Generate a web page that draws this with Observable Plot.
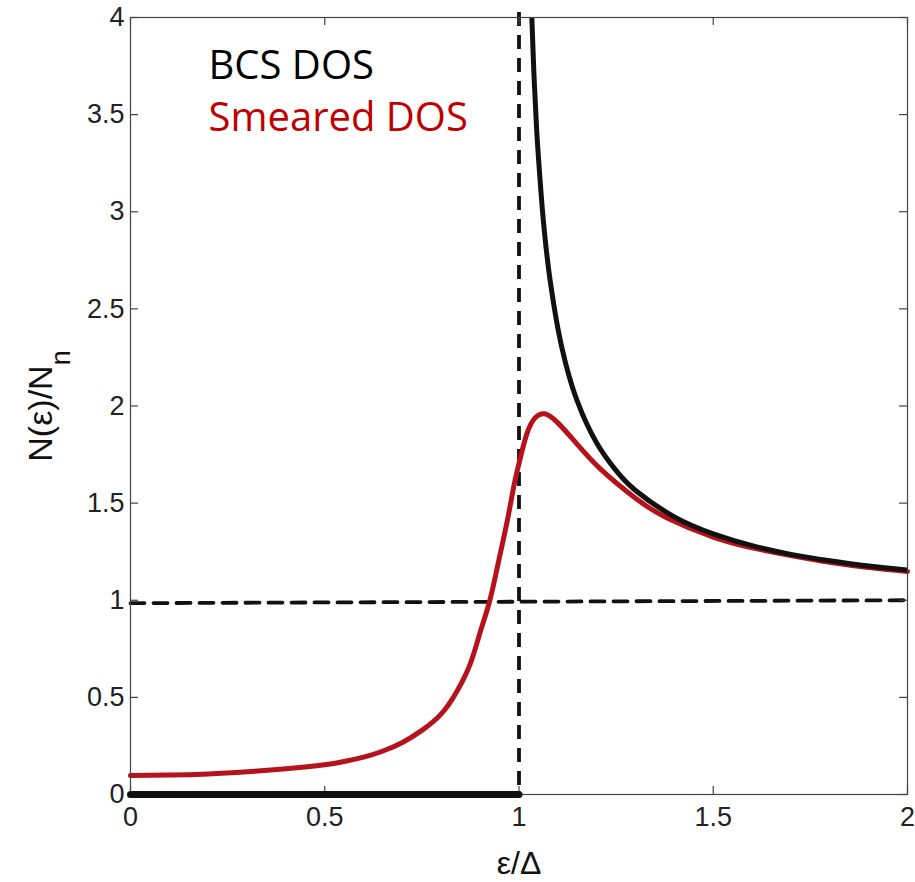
<!DOCTYPE html>
<html><head><meta charset="utf-8">
<script src="https://cdn.jsdelivr.net/npm/d3@7"></script>
<script src="https://cdn.jsdelivr.net/npm/@observablehq/plot@0.6"></script>
<style>body{margin:0;background:#fff} #chart svg{display:block}</style>
</head><body><div id="chart"></div>
<script>
// BCS density of states (above the gap)
const bcsX = [1.033, 1.038, 1.045, 1.05, 1.06, 1.07, 1.08, 1.1, 1.12, 1.15, 1.2, 1.25, 1.3, 1.4, 1.5, 1.6, 1.7, 1.8, 1.9, 2.0];
const bcsY = [4.0, 3.73, 3.44, 3.28, 3.015, 2.81, 2.648, 2.40, 2.22, 2.025, 1.809, 1.667, 1.565, 1.429, 1.342, 1.281, 1.236, 1.203, 1.176, 1.155];
// BCS zero inside the gap
const gapX = [0, 1];
const gapY = [0, 0];
// Smeared DOS
const smearX = [0, 0.1, 0.2, 0.3, 0.4, 0.5, 0.55, 0.6, 0.65, 0.7, 0.75, 0.8, 0.84, 0.875, 0.9, 0.925, 0.948, 0.97, 0.988, 1.004, 1.021, 1.042, 1.066, 1.098, 1.149, 1.21, 1.3, 1.38, 1.5, 1.6, 1.7, 1.8, 1.9, 2.0];
const smearY = [0.098, 0.100, 0.106, 0.117, 0.132, 0.153, 0.17, 0.192, 0.224, 0.268, 0.33, 0.415, 0.53, 0.675, 0.835, 1.0, 1.205, 1.41, 1.60, 1.737, 1.862, 1.94, 1.96, 1.917, 1.805, 1.675, 1.525, 1.425, 1.325, 1.27, 1.23, 1.195, 1.168, 1.148];
// Normal-state reference (dashed) and gap edge
const normalX = [0, 2];
const normalY = [0.985, 1.0];
const gapEdge = [1];
// Ticks
const xTicks = [0, 0.5, 1, 1.5, 2];
const xTickLabels = ["0", "0.5", "1", "1.5", "2"];
const yTicks = [0, 0.5, 1, 1.5, 2, 2.5, 3, 3.5, 4];
const yTickLabels = ["0", "0.5", "1", "1.5", "2", "2.5", "3", "3.5", "4"];
// Texts
const legendLabels = ["BCS DOS", "Smeared DOS"];
const legendColors = ["#000000", "#c00000"];
const xLabel = "ε/Δ";
const yLabelMain = "N(ε)/N";
const yLabelSub = "n";

const bcs = bcsX.map((x, i) => ({x, y: bcsY[i]}));
const gap = gapX.map((x, i) => ({x, y: gapY[i]}));
const smear = smearX.map((x, i) => ({x, y: smearY[i]}));
const normal = normalX.map((x, i) => ({x, y: normalY[i]}));

const W = 915, H = 882;
const mL = 130, mR = 8, mT = 17, mB = 88;
const dash = "14,9";
const axisColor = "#444";
const tick = 8;
const innerW = W - mL - mR, innerH = H - mT - mB;

const chart = Plot.plot({
  width: W,
  height: H,
  marginLeft: mL,
  marginRight: mR,
  marginTop: mT,
  marginBottom: mB,
  x: {domain: [0, 2], axis: null, label: null},
  y: {domain: [0, 4], axis: null, label: null},
  style: {fontFamily: "'Liberation Sans', Arial, sans-serif", fontSize: "27px", color: "#222", background: "#fff", overflow: "visible"},
  marks: [
    Plot.line(normal, {x: "x", y: "y", stroke: "#111", strokeWidth: 3.8, strokeDasharray: dash}),
    Plot.ruleX(gapEdge, {x: d => d, stroke: "#111", strokeWidth: 3.8, strokeDasharray: dash, insetTop: -5}),
    Plot.line(smear, {x: "x", y: "y", curve: "natural", stroke: "#b5121b", strokeWidth: 5}),
    Plot.line(bcs, {x: "x", y: "y", curve: "natural", stroke: "#111", strokeWidth: 5, clip: true}),
    // inward tick marks on all four sides
    Plot.ruleX(xTicks, {x: d => d, insetTop: innerH - tick, stroke: axisColor, strokeWidth: 1.2}),
    Plot.ruleX(xTicks, {x: d => d, insetBottom: innerH - tick, stroke: axisColor, strokeWidth: 1.2}),
    Plot.ruleY(yTicks, {y: d => d, insetRight: innerW - tick, stroke: axisColor, strokeWidth: 1.2}),
    Plot.ruleY(yTicks, {y: d => d, insetLeft: innerW - tick, stroke: axisColor, strokeWidth: 1.2}),
    Plot.frame({stroke: axisColor, strokeWidth: 1.2}),
    Plot.line(gap, {x: "x", y: "y", stroke: "#111", strokeWidth: 7}),
    Plot.axisX(xTicks, {anchor: "bottom", tickSize: 0, tickPadding: 12, tickFormat: d => xTickLabels[xTicks.indexOf(d)], fill: "#222", label: null}),
    Plot.axisY(yTicks, {anchor: "left", tickSize: 0, tickPadding: 6, tickFormat: d => yTickLabels[yTicks.indexOf(d)], fill: "#222", label: null}),
    Plot.text([xLabel], {text: d => d, frameAnchor: "bottom", dy: 69, fontSize: 32, fill: "#111", lineAnchor: "middle"}),
    Plot.text([yLabelMain], {text: d => d, frameAnchor: "left", rotate: -90, dx: -79, fontSize: 34, fill: "#111", lineAnchor: "bottom", textAnchor: "middle"}),
    Plot.text([legendLabels[0]], {text: d => d, frameAnchor: "top-left", dx: 78, dy: 61, fontSize: 40, fontFamily: "'Open Sans', sans-serif", fill: legendColors[0], textAnchor: "start", lineAnchor: "bottom"}),
    Plot.text([legendLabels[1]], {text: d => d, frameAnchor: "top-left", dx: 78, dy: 113, fontSize: 40, fontFamily: "'Open Sans', sans-serif", fill: legendColors[1], textAnchor: "start", lineAnchor: "bottom"})
  ]
});

// add the subscript to the y label
d3.select(chart).selectAll("text").each(function() {
  if (this.textContent === yLabelMain) {
    d3.select(this).append("tspan").attr("dy", "18").attr("font-size", 27).text(yLabelSub);
  }
});

document.getElementById("chart").appendChild(chart);
</script>
</body></html>
